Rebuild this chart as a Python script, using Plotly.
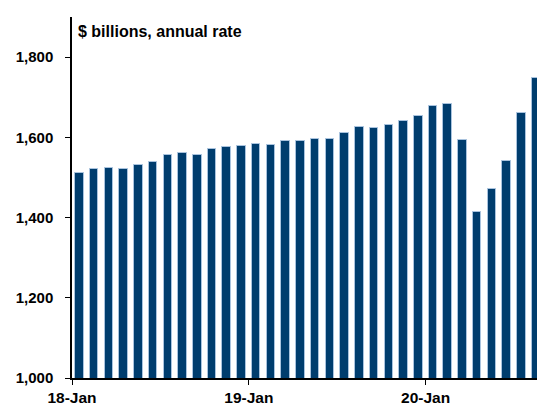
import plotly.graph_objects as go

months = list(range(32))  # Jan 2018 .. Aug 2020, monthly
values = [1511, 1522, 1524, 1521, 1532, 1538, 1555, 1561, 1556, 1570, 1575, 1579,
          1584, 1582, 1590, 1591, 1595, 1595, 1612, 1626, 1623, 1631, 1640, 1652,
          1677, 1684, 1593, 1413, 1472, 1540, 1660, 1747]
tick_pos = [-0.5, 11.5, 23.5]
tick_text = ["18-Jan", "19-Jan", "20-Jan"]
y_ticks = [1000, 1200, 1400, 1600, 1800]
y_text = ["1,000", "1,200", "1,400", "1,600", "1,800"]

font_family = "Arial, Liberation Sans, sans-serif"

fig = go.Figure(go.Bar(
    x=months, y=values, width=0.58,
    marker=dict(color="#003d6e", line=dict(color="#a9c3de", width=1)),
))

# page body has an 8px default margin, so the figure is sized/offset to compensate
fig.update_layout(
    width=537, height=397,
    margin=dict(l=64, r=0, t=9, b=27),
    plot_bgcolor="white", paper_bgcolor="white",
    showlegend=False,
    font=dict(family=font_family, size=15, color="black"),
    bargap=0,
)
fig.update_xaxes(
    range=[-0.5, 31.6], tickmode="array", tickvals=tick_pos, ticktext=tick_text,
    showline=True, linecolor="black", linewidth=1.5, showgrid=False, zeroline=False,
    ticks="outside", ticklen=5, tickcolor="black",
    tickfont=dict(family=font_family, size=15.5, weight="bold", color="black"),
)
fig.update_yaxes(
    range=[1000, 1900], tickmode="array", tickvals=y_ticks, ticktext=y_text,
    showline=True, linecolor="black", linewidth=1.5, showgrid=False, zeroline=False,
    ticks="outside", ticklen=5, tickcolor="black",
    ticklabelstandoff=9,
    tickfont=dict(family=font_family, size=15, weight="bold", color="black"),
)
fig.add_annotation(
    xref="paper", yref="paper", x=0, y=0.961, xshift=4,
    xanchor="left", yanchor="middle", showarrow=False,
    text="<b>$ billions, annual rate</b>",
    font=dict(family=font_family, size=16, color="black"),
)
fig.write_html("out.html")
